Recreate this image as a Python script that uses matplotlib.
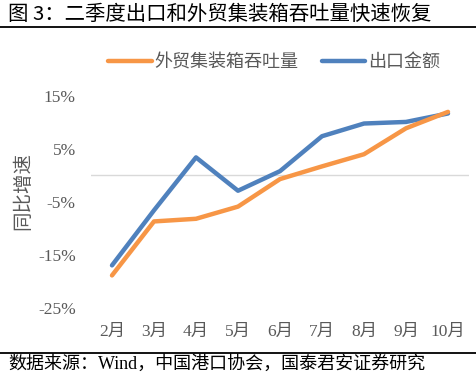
import matplotlib
matplotlib.use("Agg")
import matplotlib.pyplot as plt
from matplotlib.lines import Line2D

# Data (% yoy)
months = ["2月", "3月", "4月", "5月", "6月", "7月", "8月", "9月", "10月"]
container = [-18.9, -8.7, -8.2, -5.9, -0.7, 1.7, 4.0, 8.9, 12.0]
exports = [-17.0, -6.6, 3.4, -2.9, 0.8, 7.4, 9.8, 10.1, 11.7]
yticks = [15, 5, -5, -15, -25]

cjk = "Noto Sans CJK SC"
serif = ["Liberation Serif", cjk]
gray = "#595959"

plt.rcParams["font.family"] = serif

W, H = 476, 376
fig = plt.figure(figsize=(W / 100, H / 100), dpi=100)
ax = fig.add_axes([91 / W, 1 - 307.7 / H, 378 / W, 211.7 / H])

x = list(range(len(months)))
ax.axhline(0, color="#d9d9d9", lw=1, zorder=1)
ax.plot(x, container, color="#F79646", lw=3.2, label="外贸集装箱吞吐量", zorder=3,
        solid_capstyle="round")
ax.plot(x, exports, color="#4F81BD", lw=3.2, label="出口金额", zorder=2,
        solid_capstyle="round")

ax.set_xlim(-0.5, len(months) - 0.5)
ax.set_ylim(-25, 15)
ax.set_xticks(x)
ax.set_xticklabels(months)
ax.set_yticks(yticks)
ax.set_yticklabels([f"{v}%" for v in yticks])
ax.tick_params(axis="both", length=0, labelsize=12.5, labelcolor=gray)
ax.tick_params(axis="y", pad=11)
ax.tick_params(axis="x", pad=12)
for s in ax.spines.values():
    s.set_visible(False)

ax.set_ylabel("同比增速", family=cjk, fontsize=14, color=gray)
ax.yaxis.set_label_coords(-0.153, 0.551)

leg = ax.legend(loc="center", bbox_to_anchor=(274 / W, 1 - 62 / H),
                bbox_transform=fig.transFigure, ncol=2, frameon=False,
                handlelength=2.4, handletextpad=0.15, columnspacing=1.3,
                prop={"family": cjk, "size": 13})
for t in leg.get_texts():
    t.set_color(gray)

# title, rules and source note
fig.text(8 / W, 1 - 14 / H, "图 3：二季度出口和外贸集装箱吞吐量快速恢复",
         family=[cjk], fontsize=14.7, fontweight="medium", va="center", ha="left")
fig.add_artist(Line2D([0, 1], [1 - 27 / H, 1 - 27 / H], transform=fig.transFigure,
                      color="black", lw=1.3))
fig.add_artist(Line2D([0, 1], [1 - 353 / H, 1 - 353 / H], transform=fig.transFigure,
                      color="black", lw=1.3))
fig.text(8 / W, 1 - 364 / H, "数据来源：Wind，中国港口协会，国泰君安证券研究",
         family=serif, fontsize=13, fontweight="normal", va="center", ha="left")

fig.savefig("out.png", dpi=100)
